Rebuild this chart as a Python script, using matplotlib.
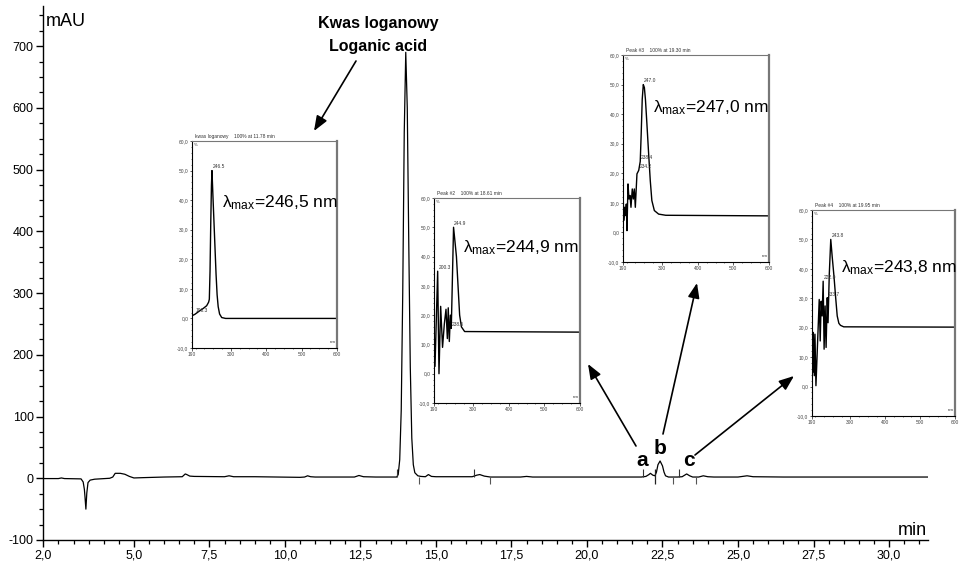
import matplotlib
matplotlib.use("Agg")
import matplotlib.pyplot as plt
from matplotlib.patches import FancyArrowPatch
from matplotlib.ticker import FixedLocator, MultipleLocator, FuncFormatter

plt.rcParams["font.family"] = ["Liberation Sans", "DejaVu Sans"]
plt.rcParams["mathtext.fontset"] = "custom"
plt.rcParams["mathtext.rm"] = "Liberation Sans"
plt.rcParams["mathtext.it"] = "Liberation Sans:italic"
plt.rcParams["axes.unicode_minus"] = False

W, H = 961, 563

# chromatogram trace: retention time (min) and absorbance (mAU)
TIME = [2.0, 2.5, 2.6, 2.7, 3.25, 3.32, 3.36, 3.38, 3.41, 3.44, 3.48, 3.55, 3.7,
        4.2, 4.3, 4.38, 4.55, 4.7, 4.85, 5.0, 5.3, 6.0, 6.6, 6.7, 6.75, 6.85, 7.0,
        8.0, 8.15, 8.3, 9.0, 10.5, 10.65, 10.75, 10.85, 11.0, 12.3, 12.45, 12.6,
        13.0, 13.7, 13.75, 13.8, 13.85, 13.9, 13.95, 14.0, 14.05, 14.1, 14.15, 14.2,
        14.25, 14.3, 14.4, 14.5, 14.65, 14.75, 14.85, 15.0, 16.2, 16.35, 16.45, 16.6,
        16.8, 17.8, 18.0, 18.2, 20.0, 21.8, 21.95, 22.05, 22.1, 22.18, 22.25, 22.3,
        22.35, 22.42, 22.5, 22.55, 22.6, 22.7, 23.0, 23.15, 23.3, 23.4, 23.5, 23.7,
        23.85, 24.0, 24.2, 25.0, 25.3, 25.5, 26.5, 28.0, 31.3]
MAU = [-0.5, -0.5, 0.5, -0.5, -1, -6, -18, -30, -50, -24, -7, -3, -1.5,
       0, 2, 8, 8, 6.5, 3, 0.5, 1, 2, 2.5, 7, 6, 3.5, 3,
       2.5, 4, 2.5, 2.5, 1.5, 2, 4, 2.5, 2, 2, 4.5, 2.5,
       2, 2, 6, 30, 110, 300, 560, 690, 600, 380, 180, 65,
       22, 9, 4, 3, 2.5, 6, 3, 2.5, 2.5, 5, 6, 3.5,
       2, 2, 3, 2, 2, 2, 3, 6, 8, 5, 4, 10,
       22, 28, 20, 10, 4, 2, 2, 2.5, 7, 4, 2, 2,
       4, 2.5, 2, 2, 4, 2.5, 2, 2, 2]

# integration markers (min)
PEAK_START = [13.7, 16.25, 21.85, 23.05]
PEAK_END = [14.45, 16.8, 22.85, 23.6]
PEAK_SPLIT = [22.25]

X_MAJOR = [2.0, 5.0, 7.5, 10.0, 12.5, 15.0, 17.5, 20.0, 22.5, 25.0, 27.5, 30.0]
Y_MAJOR = [-100, 0, 100, 200, 300, 400, 500, 600, 700]

# UV spectra of the marked peaks (nm, % of maximum)
S1_NM = [190, 198.3, 212, 222, 231.5, 237, 239, 241, 243, 245, 246.5, 249, 252, 255,
         258, 261, 264, 268, 274, 285, 600]
S1_PCT = [0.9, 1.4, 2.6, 3.4, 4.3, 5.5, 6.5, 16, 32, 45, 50, 42, 33, 24,
          15, 8, 4, 1.5, 0.3, 0, 0]

S2_NM = [190, 192.8, 200.3, 204, 208.7, 214, 219, 223.7, 227.5, 230, 233, 236,
         238.5, 240.5, 244.9, 249, 253, 257.5, 262, 267, 276, 600]
S2_PCT = [17, 2.5, 35, 0, 23, 9, 17, 22, 12, 22.5, 11, 20,
          15.5, 26, 50, 45, 40, 30, 20, 16, 14.4, 14.2]

S3_NM = [190, 191.9, 194.7, 197.5, 199.3, 201.2, 204, 206.8, 209.6, 212.4, 216,
         219, 221.8, 224.6, 229.2, 234.2, 238.4, 241, 244, 247.0, 250, 253, 257,
         262, 266.6, 271, 278, 290, 310, 600]
S3_PCT = [16.4, 4, 8.5, 5.7, 9.6, 0.6, 16.4, 11.3, 12.5, 8.5, 14.7,
          11.3, 14.7, 8.5, 19.8, 21, 24, 33, 45, 50, 49, 45, 37,
          26.6, 17.5, 10.8, 7.4, 6.2, 5.8, 5.6]

S4_NM = [190, 191.9, 193.8, 196.6, 198.5, 201.3, 206, 210.7, 213.5, 216.3, 219.1,
         222, 224.7, 227.6, 230.4, 233.7, 236, 239.5, 243.8, 248, 253, 258, 262.3,
         267, 271.7, 281, 600]
S4_PCT = [20.6, 4.8, 18.4, 3.7, 17.8, 0.3, 15, 29.6, 15.5, 29, 24,
          35.8, 12.7, 27.4, 13.3, 30.2, 21.7, 38, 50, 44, 37.5, 30, 24,
          21.5, 20.8, 20.3, 20.2]

SPECTRA = [(S1_NM, S1_PCT), (S2_NM, S2_PCT), (S3_NM, S3_PCT), (S4_NM, S4_PCT)]
SPEC_TITLES = ["kwas loganowy    100% at 11.78 min", "Peak #2    100% at 18.61 min",
               "Peak #3    100% at 19.30 min", "Peak #4    100% at 19.95 min"]
SPEC_PEAKS = [["246.5", "198.3"], ["244.9", "200.3", "238.5"],
              ["247.0", "238.4", "234.2"], ["243.8", "222.0", "233.7"]]
LAMBDA_MAX = ["246,5", "244,9", "247,0", "243,8"]

# inset frames in pixels: left, top, right, bottom
INSET_BOX = [(192, 141, 337, 348), (434, 198, 580, 403),
             (623, 55, 769, 262), (812, 210, 955, 416)]
LAMBDA_POS = [(222, 207), (463, 252), (653, 112), (841, 272)]


def fx(px):
    return px / W


def fy(py):
    return 1 - py / H


def comma(v, _pos=None, digits=1):
    return f"{v:.{digits}f}".replace(".", ",")


fig = plt.figure(figsize=(W / 100, H / 100), dpi=100)
ax = fig.add_axes([fx(43.3), fy(540), fx(928 - 43.3), (540 - 6) / H])

ax.plot(TIME, MAU, color="black", linewidth=0.9)
ax.vlines(PEAK_START, 2, 15, color="#333333", linewidth=0.8)
ax.vlines(PEAK_END, -10, 2, color="#555555", linewidth=0.8)
ax.vlines(PEAK_SPLIT, -10, 15, color="#222222", linewidth=0.9)

ax.set_xlim(2.0, 31.29)
ax.set_ylim(-100, 765)
ax.xaxis.set_major_locator(FixedLocator(X_MAJOR))
ax.xaxis.set_minor_locator(MultipleLocator(0.5))
ax.yaxis.set_major_locator(FixedLocator(Y_MAJOR))
ax.yaxis.set_minor_locator(MultipleLocator(25))
ax.xaxis.set_major_formatter(FuncFormatter(comma))
ax.tick_params(which="major", direction="out", length=5, width=1, labelsize=9, pad=2)
ax.tick_params(which="minor", direction="out", length=3, width=0.9)
for side in ["top", "right"]:
    ax.spines[side].set_visible(False)
for side in ["left", "bottom"]:
    ax.spines[side].set_linewidth(1)

fig.text(fx(46), fy(26), "mAU", fontsize=13, va="baseline", ha="left")
fig.text(fx(927), fy(535), "min", fontsize=13, va="baseline", ha="right")

fig.text(fx(378), fy(28), "Kwas loganowy", fontsize=11.5, fontweight="bold",
         ha="center", va="baseline")
fig.text(fx(378), fy(51), "Loganic acid", fontsize=11.5, fontweight="bold",
         ha="center", va="baseline")
for letter, px, py in [("a", 642, 466), ("b", 660, 454), ("c", 689, 466)]:
    fig.text(fx(px), fy(py), letter, fontsize=15, fontweight="bold",
             ha="center", va="baseline")

# spectra insets
for i, (nm, pct) in enumerate(SPECTRA):
    left, top, right, bottom = INSET_BOX[i]
    ins = fig.add_axes([fx(left), fy(bottom), (right - left) / W, (bottom - top) / H])
    ins.plot(nm, pct, color="black", linewidth=1.0)
    ins.set_xlim(190, 600)
    ins.set_ylim(-10, 60)
    ins.xaxis.set_major_locator(FixedLocator([190, 300, 400, 500, 600]))
    ins.xaxis.set_minor_locator(MultipleLocator(25))
    ins.yaxis.set_major_locator(MultipleLocator(10))
    ins.yaxis.set_minor_locator(MultipleLocator(2))
    ins.yaxis.set_major_formatter(FuncFormatter(comma))
    ins.tick_params(which="major", direction="out", length=1.8, width=0.6,
                    labelsize=3.5, pad=0.8, colors="#444444")
    ins.tick_params(which="minor", direction="out", length=1.0, width=0.5,
                    colors="#444444")
    ins.spines["left"].set_linewidth(0.8)
    ins.spines["bottom"].set_linewidth(0.8)
    ins.spines["top"].set_color("#777777")
    ins.spines["top"].set_linewidth(0.8)
    ins.spines["right"].set_color("#777777")
    ins.spines["right"].set_linewidth(1.6)
    ins.patch.set_alpha(0)
    ins.text(0.02, 1.01, SPEC_TITLES[i], transform=ins.transAxes, fontsize=3.5,
             va="bottom", ha="left", color="#333333")
    ins.text(0.015, 0.99, "%", transform=ins.transAxes, fontsize=3.2,
             va="top", ha="left", color="#333333")
    ins.text(0.99, 0.02, "nm", transform=ins.transAxes, fontsize=3.2,
             va="bottom", ha="right", color="#333333")
    for label in SPEC_PEAKS[i]:
        wl = float(label)
        j = min(range(len(nm)), key=lambda k: abs(nm[k] - wl))
        ins.text(nm[j] + 2, pct[j] + 0.4, label, fontsize=3.5, color="#333333",
                 va="bottom", ha="left")
    lx, ly = LAMBDA_POS[i]
    fig.text(fx(lx), fy(ly), r"$\mathrm{\lambda_{max}}$=" + LAMBDA_MAX[i] + " nm",
             fontsize=12.5, va="baseline", ha="left")

# arrows from labels to spectra
ARROWS = [((356, 61), (314, 131)), ((636, 446), (588, 364)),
          ((663, 434), (697, 283)), ((695, 455), (794, 376))]
for (x0, y0), (x1, y1) in ARROWS:
    arrow = FancyArrowPatch((fx(x0), fy(y0)), (fx(x1), fy(y1)),
                            transform=fig.transFigure,
                            arrowstyle="-|>,head_length=0.9,head_width=0.35",
                            mutation_scale=10, color="black", linewidth=1.2,
                            shrinkA=0, shrinkB=0)
    fig.patches.append(arrow)

fig.savefig("out.png", dpi=100)
plt.close(fig)
